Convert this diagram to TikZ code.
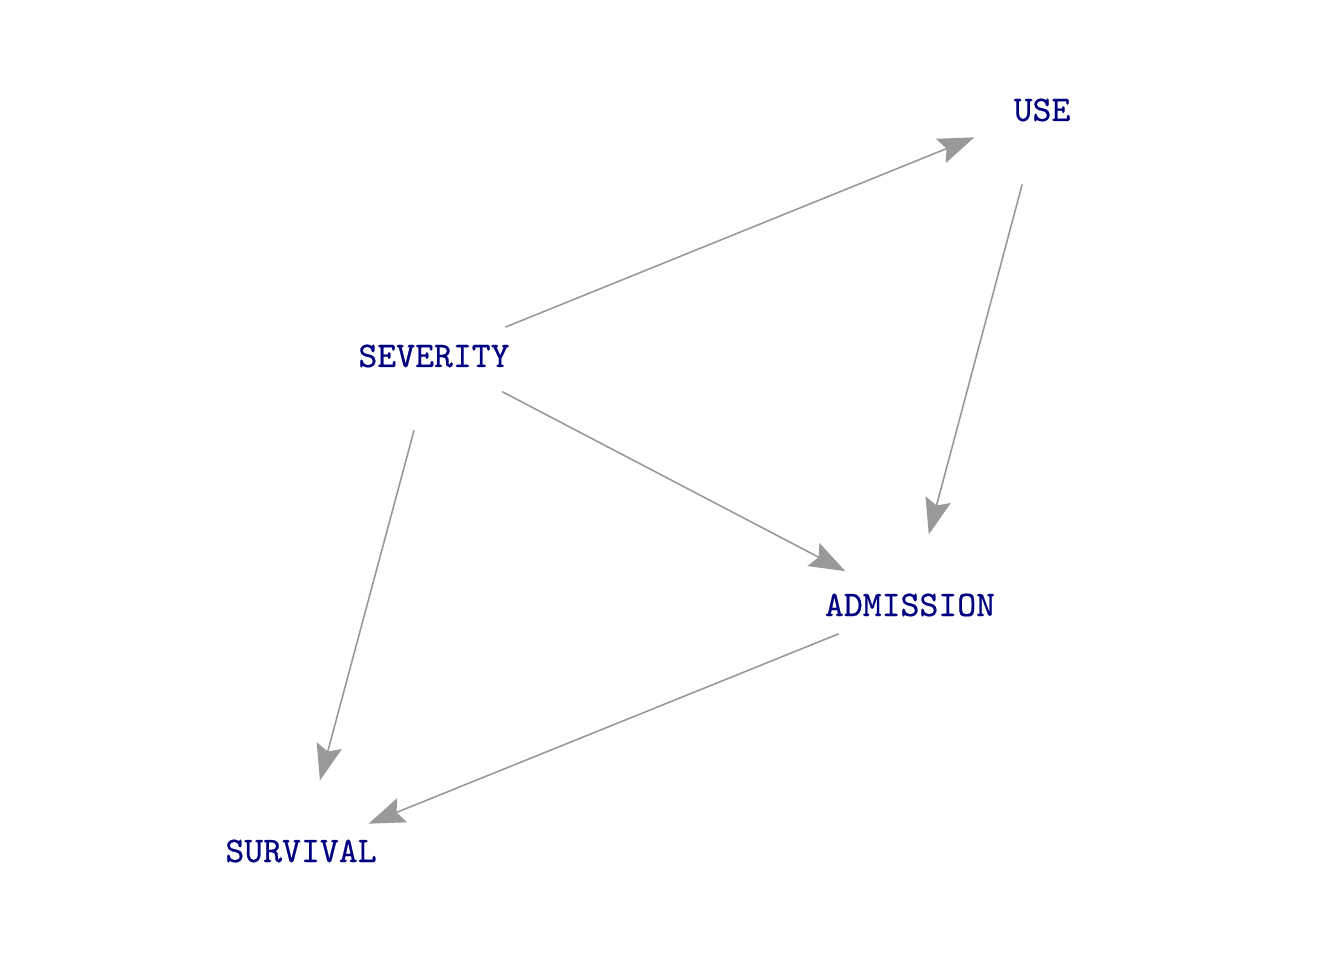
\documentclass[tikz,border=0pt]{standalone}
\usepackage{fontspec}
\setmonofont{lmmono10-regular.otf}[FakeBold=0.5]
\usetikzlibrary{arrows.meta}
\definecolor{lbl}{RGB}{0,0,128}
\definecolor{edg}{RGB}{153,153,153}
\tikzset{
  var/.style={text=lbl, font=\ttfamily\fontsize{36}{40}\selectfont, inner sep=0pt},
  edge/.style={draw=edg, line width=1.6pt, shorten <=77pt, shorten >=73pt,
    -{Stealth[length=36pt, width=26pt, inset=6pt]}}
}
\begin{document}
\begin{tikzpicture}[x=1pt,y=-1pt]
\useasboundingbox (0,0) rectangle (1344,960);
\node[var] (use) at (1042,110) {USE};
\node[var] (sev) at (434,356) {SEVERITY};
\node[var] (adm) at (910,605) {ADMISSION};
\node[var] (sur) at (301,851) {SURVIVAL};
\draw[edge] (sev.center) -- (use.center);
\draw[edge] (use.center) -- (adm.center);
\draw[edge] (sev.center) -- (adm.center);
\draw[edge] (sev.center) -- (sur.center);
\draw[edge] (adm.center) -- (sur.center);
\end{tikzpicture}
\end{document}
